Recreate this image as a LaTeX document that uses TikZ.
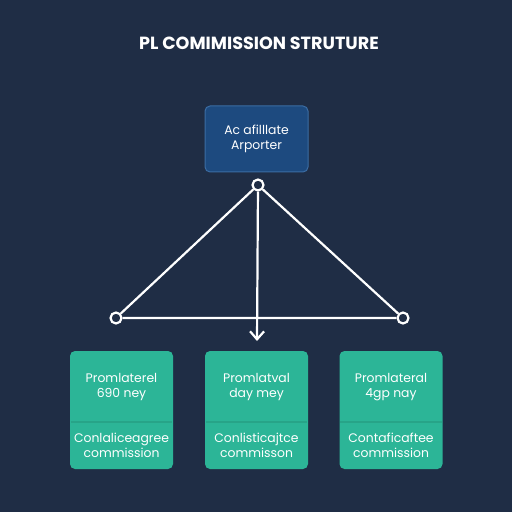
\documentclass[tikz,border=0pt]{standalone}
\usepackage{fontspec}
\setmainfont{Poppins}
\usepackage{xcolor}
\usetikzlibrary{calc,arrows.meta}

\definecolor{navy}{HTML}{1F2D45}
\definecolor{topblue}{HTML}{1D4A7F}
\definecolor{topedge}{HTML}{3B6CA3}
\definecolor{teal}{HTML}{2CB597}
\definecolor{tealdark}{HTML}{27A488}

\begin{document}
\begin{tikzpicture}[x=0.5pt,y=-0.5pt]
        \tikzstyle{joint}=[draw=white,circle,line width=1.1pt,minimum size=5.5pt,inner sep=0pt,fill=navy]
        \tikzstyle{box}=[rounded corners=2.5pt,minimum width=51.5pt,inner sep=0pt,text=white,align=center,font=\fontsize{6.2}{7.6}\selectfont]
        \fill[navy] (0,0) rectangle (512,512);
        \useasboundingbox (0,0) rectangle (512,512);

            \node (title) at (259,43) {\textcolor{white}{\fontsize{8.8}{11}\selectfont\bfseries PL COMIMISSION STRUTURE}};

            \node[box,fill=topblue,draw=topedge,line width=0.5pt,minimum height=33pt] (A) at (256.5,139) {Ac afilllate\\Arporter};

            \node[box,fill=teal,minimum height=59pt] (B1) at (121.5,410) {};
            \node[box,fill=teal,minimum height=59pt] (B2) at (256.5,410) {};
            \node[box,fill=teal,minimum height=59pt] (B3) at (391,410) {};

            % upper and lower parts
            \foreach \b/\t/\s in {B1/{Promlaterel\\690 ney}/{Conlaliceagree\\commission},
                                  B2/{Promlatval\\day mey}/{Conlisticajtce\\commisson},
                                  B3/{Promlateral\\4gp nay}/{Contaficaftee\\commission}} {
                \draw[tealdark,line width=0.6pt] ($(\b.west)+(1,12)$) -- ($(\b.east)+(-1,12)$);
                \node[box] at ($(\b)+(0,-23)$) {\t};
                \node[box] at ($(\b)+(0,35)$) {\s};
            }

            \node[joint] (T) at (258,185) {};
            \node[joint] (L) at (116,318) {};
            \node[joint] (R) at (403,318) {};
            \coordinate (P) at (257,341);

            \draw[white,line width=1.1pt] (T) -- (L) -- (R) -- (T);
            \draw[white,line width=1.1pt,-{Straight Barb[length=4pt,width=7pt]}] (T) -- (P);

        \end{tikzpicture}
\end{document}
